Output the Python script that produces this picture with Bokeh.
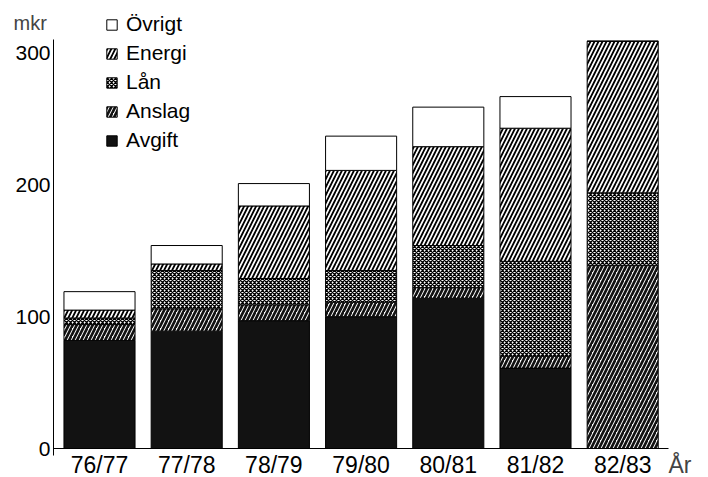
import numpy as np
from bokeh.plotting import figure
from bokeh.models import (Range1d, FixedTicker, Legend, LegendItem, Label,
                          ColumnDataSource)
from bokeh.embed import file_html
from bokeh.resources import INLINE

# ---- data (mkr) ----
years = ["76/77", "77/78", "78/79", "79/80", "80/81", "81/82", "82/83"]
avgift = [82, 89, 97, 100, 114, 61, 0]
anslag = [12, 17, 12, 11, 8, 9, 139]
lan = [5, 29, 20, 24, 32, 72, 55]
energi = [6, 5, 55, 76, 75, 101, 115]
ovrigt = [14, 14, 17, 26, 30, 24, 0]
series_names = ["Avgift", "Anslag", "Lån", "Energi", "Övrigt"]
y_ticks = [0, 100, 200, 300]

FONT = "Liberation Sans"
W, H = 708, 477

x = list(range(len(years)))
src = ColumnDataSource(dict(x=x, Avgift=avgift, Anslag=anslag, Lån=lan,
                            Energi=energi, Övrigt=ovrigt))

# frame covers the whole canvas; axes are drawn at fixed locations inside it
p = figure(width=W, height=H, output_backend="svg", toolbar_location=None,
           x_range=Range1d(-1.1353, 6.984), y_range=Range1d(-22.0, 339.9),
           min_border=0, min_border_left=0, min_border_right=0,
           min_border_top=0, min_border_bottom=0)
p.outline_line_color = None
p.xgrid.visible = False
p.ygrid.visible = False
p.background_fill_color = "white"
p.border_fill_color = "white"

renderers = p.vbar_stack(
    series_names, x="x", width=0.815, source=src,
    fill_color=["#121212", "white", "white", "white", "white"],
    hatch_pattern=[" ", "/", "x", "/", " "],
    hatch_color=["#121212", "#121212", "black", "black", "black"],
    hatch_weight=[1, 2.7, 1.25, 1.8, 1],
    hatch_scale=[8, 8, 4, 8, 8],
    line_color="black", line_width=1,
)

# axes
p.yaxis.fixed_location = -0.5275
p.yaxis.bounds = (-5, 310)
p.yaxis.ticker = FixedTicker(ticks=y_ticks)
p.yaxis.major_tick_out = 0
p.yaxis.major_tick_in = 0
p.yaxis.minor_tick_out = 0
p.yaxis.minor_tick_in = 0
p.yaxis.major_label_standoff = 3
p.yaxis.major_label_text_font = FONT
p.yaxis.major_label_text_font_size = "21px"
p.yaxis.major_label_text_color = "black"
p.yaxis.axis_line_color = "black"

p.xaxis.fixed_location = 0
p.xaxis.bounds = (-0.5275, 6.525)
p.xaxis.ticker = FixedTicker(ticks=x)
p.xaxis.major_label_overrides = {i: y for i, y in zip(x, years)}
p.xaxis.major_tick_out = 0
p.xaxis.major_tick_in = 0
p.xaxis.minor_tick_out = 0
p.xaxis.minor_tick_in = 0
p.xaxis.major_label_standoff = 3
p.xaxis.major_label_text_font = FONT
p.xaxis.major_label_text_font_size = "23px"
p.xaxis.major_label_text_color = "black"
p.xaxis.axis_line_color = "black"

# legend (top to bottom: Övrigt ... Avgift)
items = [LegendItem(label=n, renderers=[r]) for n, r in zip(series_names, renderers)]
items = items[::-1]
legend = Legend(items=items, location=(105, 325), orientation="vertical",
                label_text_font=FONT, label_text_font_size="21px",
                label_text_color="black",
                glyph_width=13, glyph_height=13, label_height=20,
                label_standoff=8, spacing=5, padding=0, margin=0,
                border_line_color=None, background_fill_alpha=0)
p.add_layout(legend)

p.add_layout(Label(x=13, y=455, x_units="screen", y_units="screen", text="mkr",
                   text_font=FONT, text_font_size="20px", text_baseline="middle"))
p.add_layout(Label(x=668, y=13, x_units="screen", y_units="screen", text="År",
                   text_font=FONT, text_font_size="23px", text_baseline="middle"))

open("out.html", "w").write(file_html(p, INLINE))
